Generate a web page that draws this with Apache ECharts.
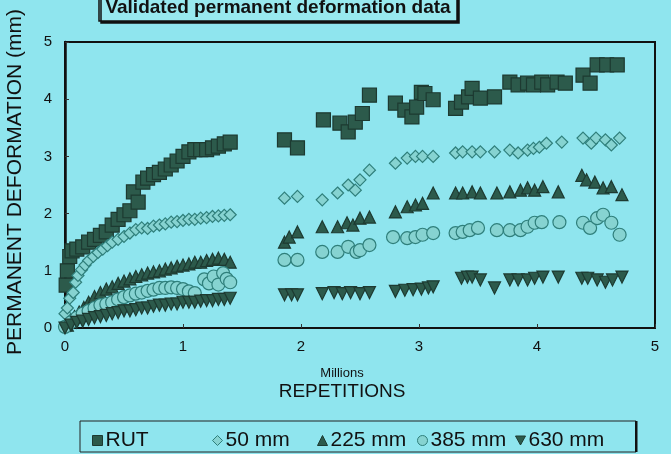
<!DOCTYPE html>
<html>
<head>
<meta charset="utf-8">
<script src="https://cdn.jsdelivr.net/npm/echarts@6/dist/echarts.min.js"></script>
<style>
html,body{margin:0;padding:0;background:#8fe5ee;}
#c{width:671px;height:454px;}
</style>
</head>
<body>
<div id="c"></div>
<script>
// ---- data (x in millions of repetitions, y in mm) ----
const seriesNames = ['RUT', '50 mm', '225 mm', '385 mm', '630 mm'];
const xTicks = [0, 1, 2, 3, 4, 5];
const yTicks = [0, 1, 2, 3, 4, 5];

const rut = [
  [0.01,0.75],[0.02,1.0],[0.04,1.25],[0.06,1.35],[0.1,1.38],[0.15,1.42],[0.2,1.5],[0.25,1.55],
  [0.3,1.62],[0.35,1.68],[0.4,1.8],[0.45,1.9],[0.5,1.98],[0.55,2.05],[0.58,2.38],[0.62,2.2],
  [0.66,2.55],[0.7,2.62],[0.75,2.68],[0.8,2.72],[0.85,2.78],[0.9,2.85],[0.95,2.92],[1.0,3.0],
  [1.05,3.08],[1.1,3.12],[1.15,3.12],[1.2,3.12],[1.25,3.15],[1.3,3.18],[1.35,3.22],[1.4,3.25],
  [1.86,3.29],[1.97,3.15],[2.19,3.64],[2.33,3.58],[2.40,3.43],[2.46,3.6],[2.52,3.75],[2.58,4.07],
  [2.80,3.93],[2.88,3.81],[2.94,3.69],[2.98,3.86],[3.02,4.12],[3.05,4.1],[3.12,3.99],[3.31,3.84],
  [3.36,3.95],[3.42,4.04],[3.45,4.19],[3.52,4.02],[3.64,4.04],[3.77,4.3],[3.84,4.25],[3.92,4.28],
  [3.97,4.25],[4.04,4.3],[4.09,4.25],[4.17,4.3],[4.24,4.28],[4.39,4.42],[4.45,4.28],[4.51,4.6],
  [4.59,4.6],[4.68,4.6]
];
const mm50 = [
  [0.0,0.25],[0.02,0.35],[0.04,0.52],[0.07,0.62],[0.09,0.8],[0.11,0.92],[0.14,1.02],[0.17,1.1],
  [0.2,1.18],[0.24,1.25],[0.28,1.32],[0.32,1.38],[0.36,1.44],[0.4,1.5],[0.45,1.55],[0.5,1.6],
  [0.55,1.66],[0.6,1.72],[0.65,1.75],[0.7,1.74],[0.75,1.78],[0.8,1.8],[0.85,1.82],[0.9,1.85],
  [0.95,1.86],[1.0,1.88],[1.05,1.9],[1.1,1.9],[1.15,1.92],[1.2,1.93],[1.25,1.95],[1.3,1.96],
  [1.35,1.97],[1.4,1.98],
  [1.86,2.27],[1.97,2.3],[2.18,2.24],[2.31,2.36],[2.40,2.5],[2.46,2.41],[2.5,2.59],[2.58,2.76],
  [2.80,2.88],[2.90,2.97],[2.97,3.0],[3.03,3.0],[3.12,3.0],[3.31,3.06],[3.37,3.08],[3.45,3.08],
  [3.52,3.08],[3.64,3.08],[3.77,3.11],[3.84,3.06],[3.92,3.11],[3.97,3.14],[4.02,3.16],[4.08,3.23],
  [4.21,3.25],[4.39,3.32],[4.46,3.23],[4.5,3.32],[4.58,3.29],[4.63,3.2],[4.7,3.32]
];
const mm225 = [
  [0.02,0.05],[0.05,0.12],[0.08,0.2],[0.12,0.28],[0.16,0.36],[0.2,0.45],[0.25,0.55],[0.3,0.62],
  [0.35,0.68],[0.4,0.72],[0.45,0.78],[0.5,0.82],[0.55,0.86],[0.6,0.9],[0.65,0.93],[0.7,0.96],
  [0.75,0.98],[0.8,1.0],[0.85,1.03],[0.9,1.05],[0.95,1.08],[1.0,1.1],[1.05,1.12],[1.1,1.15],
  [1.15,1.15],[1.2,1.18],[1.25,1.2],[1.3,1.22],[1.35,1.2],[1.4,1.15],
  [1.86,1.5],[1.9,1.59],[1.97,1.68],[2.18,1.77],[2.31,1.77],[2.39,1.84],[2.44,1.8],[2.5,1.92],
  [2.58,1.94],[2.80,2.03],[2.90,2.12],[2.97,2.15],[3.03,2.18],[3.12,2.36],[3.31,2.36],[3.37,2.36],
  [3.45,2.38],[3.52,2.36],[3.66,2.36],[3.77,2.38],[3.86,2.41],[3.92,2.45],[3.98,2.41],[4.05,2.47],
  [4.18,2.38],[4.38,2.67],[4.42,2.59],[4.49,2.55],[4.56,2.45],[4.63,2.47],[4.72,2.33]
];
const mm385 = [
  [0.0,0.02],[0.05,0.1],[0.1,0.18],[0.15,0.25],[0.2,0.3],[0.25,0.35],[0.3,0.4],[0.35,0.42],
  [0.4,0.45],[0.45,0.5],[0.5,0.54],[0.55,0.57],[0.6,0.6],[0.65,0.62],[0.7,0.65],[0.75,0.67],
  [0.8,0.7],[0.85,0.7],[0.9,0.71],[0.95,0.7],[1.0,0.68],[1.05,0.64],[1.1,0.61],[1.18,0.85],
  [1.22,0.78],[1.26,0.9],[1.3,0.76],[1.34,0.96],[1.37,0.86],[1.4,0.8],
  [1.86,1.19],[1.97,1.19],[2.18,1.33],[2.31,1.33],[2.40,1.42],[2.47,1.33],[2.5,1.36],[2.58,1.45],
  [2.78,1.59],[2.90,1.57],[2.97,1.59],[3.03,1.63],[3.12,1.66],[3.31,1.66],[3.37,1.68],[3.43,1.71],
  [3.5,1.75],[3.66,1.71],[3.77,1.71],[3.86,1.71],[3.92,1.77],[3.98,1.84],[4.04,1.85],[4.19,1.85],
  [4.39,1.84],[4.45,1.75],[4.51,1.92],[4.56,1.98],[4.63,1.84],[4.7,1.63]
];
const mm630 = [
  [0.0,0.0],[0.05,0.05],[0.1,0.1],[0.15,0.12],[0.2,0.15],[0.25,0.18],[0.3,0.2],[0.35,0.22],
  [0.4,0.25],[0.45,0.27],[0.5,0.3],[0.55,0.3],[0.6,0.32],[0.65,0.35],[0.7,0.35],[0.75,0.38],
  [0.8,0.4],[0.85,0.4],[0.9,0.42],[0.95,0.42],[1.0,0.45],[1.05,0.45],[1.1,0.45],[1.15,0.47],
  [1.2,0.48],[1.25,0.48],[1.3,0.5],[1.35,0.5],[1.4,0.52],
  [1.86,0.58],[1.92,0.58],[1.97,0.58],[2.18,0.6],[2.28,0.62],[2.35,0.6],[2.42,0.62],[2.5,0.6],
  [2.58,0.62],[2.8,0.64],[2.88,0.66],[2.95,0.67],[3.02,0.68],[3.08,0.7],[3.12,0.72],[3.36,0.87],
  [3.41,0.89],[3.45,0.89],[3.52,0.84],[3.64,0.7],[3.77,0.84],[3.84,0.84],[3.92,0.84],[3.98,0.87],
  [4.05,0.89],[4.18,0.89],[4.38,0.87],[4.43,0.87],[4.51,0.84],[4.58,0.8],[4.64,0.84],[4.72,0.89]
];

// ---- chart ----
const FONT = '"Liberation Sans", Arial, sans-serif';
const DARK = '#2c5a4b', DARK_B = '#1d3a31';
const TEAL = '#86d3d1', TEAL_B = '#2f7f7b';
const INV_TRI = 'path://M0,0L10,0L5,9Z';

const styles = [
  {data: rut,   symbol: 'rect',     icon: 'rect',     size: 14, rot: 0,   fill: DARK, stroke: DARK_B},
  {data: mm50,  symbol: 'diamond',  icon: 'diamond',  size: 12, rot: 0,   fill: TEAL, stroke: TEAL_B},
  {data: mm225, symbol: 'triangle', icon: 'triangle', size: 12, rot: 0,   fill: DARK, stroke: DARK_B},
  {data: mm385, symbol: 'circle',   icon: 'circle',   size: 13, rot: 0,   fill: TEAL, stroke: TEAL_B},
  {data: mm630, symbol: 'triangle', icon: INV_TRI,    size: 12, rot: 180, fill: DARK, stroke: DARK_B}
];

const series = styles.map((s, i) => ({
  name: seriesNames[i],
  type: 'scatter',
  data: s.data,
  symbol: s.symbol,
  symbolSize: s.size,
  symbolRotate: s.rot,
  itemStyle: {color: s.fill, borderColor: s.stroke, borderWidth: 1.2, opacity: 1},
  emphasis: {disabled: true},
  animation: false
}));

const legendLefts = [87, 207, 312, 412, 510];
const legends = seriesNames.map((n, i) => ({
  left: legendLefts[i], top: 425,
  data: [{name: n, icon: styles[i].icon, itemStyle: {color: styles[i].fill, borderColor: styles[i].stroke, borderWidth: 1}}],
  itemWidth: 10, itemHeight: 10, itemGap: 4,
  textStyle: {fontFamily: FONT, fontSize: 21, color: '#111', padding: [0,0,0,-2]},
  selectedMode: false
}));

const chart = echarts.init(document.getElementById('c'), null, {renderer: 'canvas'});
chart.setOption({
  backgroundColor: '#8fe5ee',
  animation: false,
  grid: {left: 65, right: 16, top: 42, bottom: 126, show: true, borderColor: '#111', borderWidth: 2, backgroundColor: 'transparent', outerBoundsMode: 'none'},
  xAxis: {
    type: 'value', min: xTicks[0], max: xTicks[xTicks.length - 1], interval: 1,
    axisLine: {show: true, lineStyle: {color: '#111', width: 2}},
    axisTick: {show: true, inside: true, length: 4, lineStyle: {color: '#333'}},
    splitLine: {show: false},
    axisLabel: {fontFamily: FONT, fontSize: 15, color: '#111', margin: 11}
  },
  yAxis: {
    type: 'value', min: yTicks[0], max: yTicks[yTicks.length - 1], interval: 1,
    axisLine: {show: true, lineStyle: {color: '#111', width: 2.5}},
    axisTick: {show: true, inside: true, length: 4, lineStyle: {color: '#333'}},
    splitLine: {show: false},
    axisLabel: {fontFamily: FONT, fontSize: 15, color: '#111', margin: 13}
  },
  legend: legends,
  series: series,
  graphic: [
    {type: 'rect', shape: {x: 99, y: -12, width: 358, height: 33}, style: {fill: '#98e9ef', stroke: '#111', lineWidth: 1.5, shadowColor: '#111', shadowOffsetX: 2, shadowOffsetY: 2, shadowBlur: 0}, z: 10},
    {type: 'text', x: 278, y: 8, style: {text: 'Validated permanent deformation data', font: 'bold 19px ' + FONT, fill: '#111', align: 'center', verticalAlign: 'middle'}, z: 11},
    {type: 'text', x: 15, y: 182, rotation: Math.PI / 2, style: {text: 'PERMANENT DEFORMATION (mm)', font: '21px ' + FONT, fill: '#111', align: 'center', verticalAlign: 'middle'}, z: 11},
    {type: 'text', x: 342, y: 373, style: {text: 'Millions', font: '13px ' + FONT, fill: '#111', align: 'center', verticalAlign: 'middle'}, z: 11},
    {type: 'text', x: 342, y: 392, style: {text: 'REPETITIONS', font: '19px ' + FONT, fill: '#111', align: 'center', verticalAlign: 'middle'}, z: 11},
    {type: 'rect', shape: {x: 80, y: 421, width: 556, height: 31}, style: {fill: 'transparent', stroke: '#222', lineWidth: 1}, z: 0},
    {type: 'rect', shape: {x: 635, y: 421, width: 2.5, height: 31}, style: {fill: '#111'}, z: 1}
  ]
});
</script>
</body>
</html>
